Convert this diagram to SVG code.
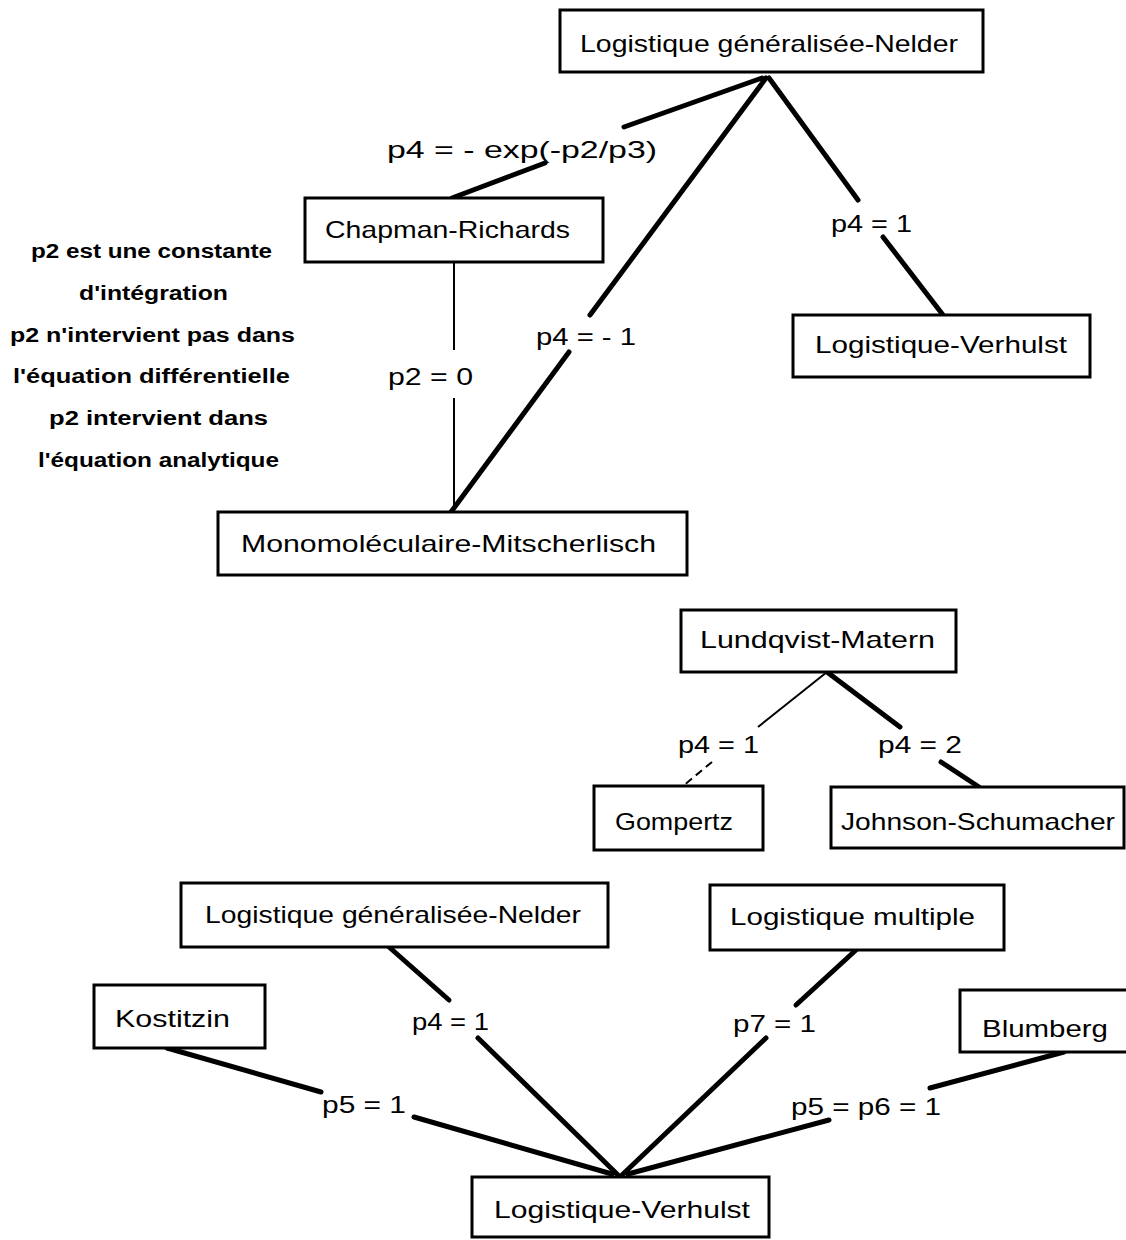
<svg xmlns="http://www.w3.org/2000/svg" width="1126" height="1240" viewBox="0 0 1126 1240">
<style>
.box{fill:#fff;stroke:#000;stroke-width:3}
.t{font-family:"Liberation Sans","DejaVu Sans",sans-serif;font-size:24px;fill:#000}
.n{font-family:"Liberation Sans","DejaVu Sans",sans-serif;font-size:20px;font-weight:bold;fill:#000}
.thick{stroke:#000;stroke-width:5;stroke-linecap:round;fill:none}
.thin{stroke:#000;stroke-width:2;fill:none}
.dash{stroke:#000;stroke-width:2;stroke-dasharray:8 5;fill:none}
</style>
<rect width="1126" height="1240" fill="#fff"/>
<g id="connectors">
<line class="thick" x1="762" y1="78" x2="624" y2="127"/>
<line class="thick" x1="545" y1="163" x2="452" y2="198"/>
<line class="thick" x1="766" y1="78" x2="590" y2="315"/>
<line class="thick" x1="569" y1="352" x2="451" y2="512"/>
<line class="thick" x1="769" y1="78" x2="858" y2="200"/>
<line class="thick" x1="883" y1="237" x2="943" y2="315"/>
<line class="thin" x1="454" y1="262" x2="454" y2="350"/>
<line class="thin" x1="454" y1="398" x2="454" y2="512"/>
<line class="thin" x1="827" y1="672" x2="758" y2="727"/>
<line class="thick" x1="827" y1="672" x2="900" y2="727"/>
<line class="dash" x1="712" y1="762" x2="683" y2="786"/>
<line class="thick" x1="941" y1="762" x2="979" y2="787"/>
<line class="thick" x1="389" y1="947" x2="449" y2="1000"/>
<line class="thick" x1="478" y1="1038" x2="618" y2="1175"/>
<line class="thick" x1="167" y1="1048" x2="321" y2="1092"/>
<line class="thick" x1="414" y1="1117" x2="612" y2="1174"/>
<line class="thick" x1="856" y1="950" x2="796" y2="1005"/>
<line class="thick" x1="766" y1="1038" x2="622" y2="1175"/>
<line class="thick" x1="1064" y1="1052" x2="930" y2="1088"/>
<line class="thick" x1="829" y1="1120" x2="628" y2="1174"/>
</g>
<g id="labels">
<text class="t" x="387" y="158" textLength="270" lengthAdjust="spacingAndGlyphs">p4 = - exp(-p2/p3)</text>
<text class="t" x="536" y="345" textLength="100" lengthAdjust="spacingAndGlyphs">p4 = - 1</text>
<text class="t" x="831" y="232" textLength="81" lengthAdjust="spacingAndGlyphs">p4 = 1</text>
<text class="t" x="388" y="385" textLength="85" lengthAdjust="spacingAndGlyphs">p2 = 0</text>
<text class="t" x="678" y="753" textLength="81" lengthAdjust="spacingAndGlyphs">p4 = 1</text>
<text class="t" x="878" y="753" textLength="84" lengthAdjust="spacingAndGlyphs">p4 = 2</text>
<text class="t" x="412" y="1030" textLength="77" lengthAdjust="spacingAndGlyphs">p4 = 1</text>
<text class="t" x="322" y="1113" textLength="84" lengthAdjust="spacingAndGlyphs">p5 = 1</text>
<text class="t" x="733" y="1032" textLength="83" lengthAdjust="spacingAndGlyphs">p7 = 1</text>
<text class="t" x="791" y="1115" textLength="150" lengthAdjust="spacingAndGlyphs">p5 = p6 = 1</text>
</g>
<g id="note">
<text class="n" x="31" y="258" textLength="241" lengthAdjust="spacingAndGlyphs">p2 est une constante</text>
<text class="n" x="79" y="300" textLength="149" lengthAdjust="spacingAndGlyphs">d'intégration</text>
<text class="n" x="10" y="342" textLength="285" lengthAdjust="spacingAndGlyphs">p2 n'intervient pas dans</text>
<text class="n" x="13" y="383" textLength="277" lengthAdjust="spacingAndGlyphs">l'équation différentielle</text>
<text class="n" x="49" y="425" textLength="219" lengthAdjust="spacingAndGlyphs">p2 intervient dans</text>
<text class="n" x="38" y="467" textLength="241" lengthAdjust="spacingAndGlyphs">l'équation analytique</text>
</g>
<g id="nelder-top">
<rect class="box" x="560" y="10" width="423" height="62"/>
<text class="t" x="580" y="52" textLength="378" lengthAdjust="spacingAndGlyphs">Logistique généralisée-Nelder</text>
</g>
<g id="chapman">
<rect class="box" x="305" y="198" width="298" height="64"/>
<text class="t" x="325" y="238" textLength="245" lengthAdjust="spacingAndGlyphs">Chapman-Richards</text>
</g>
<g id="verhulst-top">
<rect class="box" x="793" y="315" width="297" height="62"/>
<text class="t" x="815" y="353" textLength="252" lengthAdjust="spacingAndGlyphs">Logistique-Verhulst</text>
</g>
<g id="mitscherlisch">
<rect class="box" x="218" y="512" width="469" height="63"/>
<text class="t" x="241" y="552" textLength="415" lengthAdjust="spacingAndGlyphs">Monomoléculaire-Mitscherlisch</text>
</g>
<g id="lundqvist">
<rect class="box" x="681" y="610" width="275" height="62"/>
<text class="t" x="700" y="648" textLength="235" lengthAdjust="spacingAndGlyphs">Lundqvist-Matern</text>
</g>
<g id="gompertz">
<rect class="box" x="594" y="786" width="169" height="64"/>
<text class="t" x="615" y="830" textLength="118" lengthAdjust="spacingAndGlyphs">Gompertz</text>
</g>
<g id="johnson">
<rect class="box" x="831" y="787" width="293" height="61"/>
<text class="t" x="841" y="830" textLength="274" lengthAdjust="spacingAndGlyphs">Johnson-Schumacher</text>
</g>
<g id="nelder-bottom">
<rect class="box" x="181" y="883" width="427" height="64"/>
<text class="t" x="205" y="923" textLength="376" lengthAdjust="spacingAndGlyphs">Logistique généralisée-Nelder</text>
</g>
<g id="multiple">
<rect class="box" x="710" y="885" width="294" height="65"/>
<text class="t" x="730" y="925" textLength="245" lengthAdjust="spacingAndGlyphs">Logistique multiple</text>
</g>
<g id="kostitzin">
<rect class="box" x="94" y="985" width="171" height="63"/>
<text class="t" x="115" y="1027" textLength="115" lengthAdjust="spacingAndGlyphs">Kostitzin</text>
</g>
<g id="blumberg">
<rect class="box" x="960" y="990" width="180" height="62"/>
<text class="t" x="982" y="1037" textLength="126" lengthAdjust="spacingAndGlyphs">Blumberg</text>
</g>
<g id="verhulst-bottom">
<rect class="box" x="472" y="1177" width="297" height="60"/>
<text class="t" x="494" y="1218" textLength="256" lengthAdjust="spacingAndGlyphs">Logistique-Verhulst</text>
</g>
</svg>
